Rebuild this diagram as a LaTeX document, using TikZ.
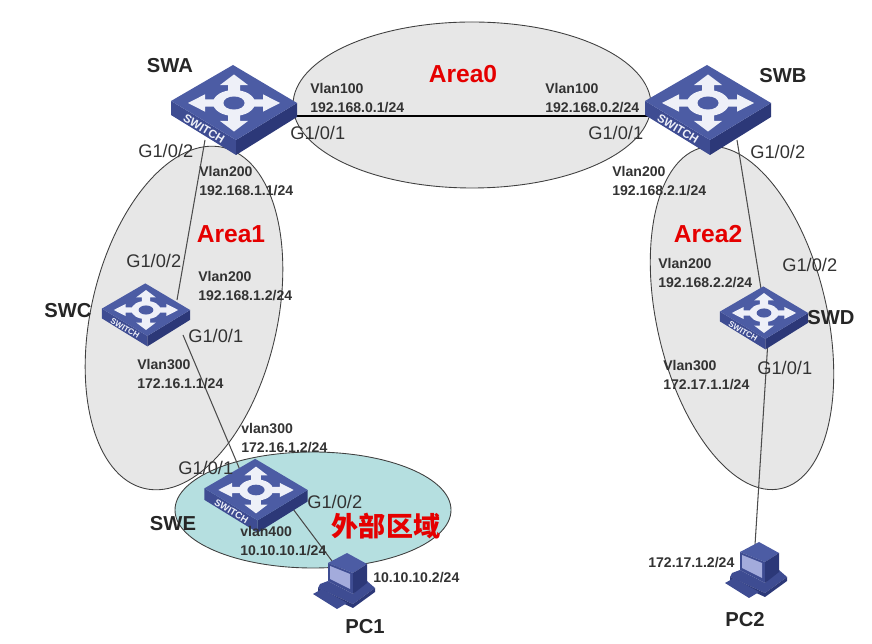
\documentclass[tikz,border=0pt]{standalone}
\usepackage{fontspec}
\setmainfont{Liberation Sans}
\newfontfamily\cjkfont{Noto Sans CJK SC}
\usetikzlibrary{calc}
\definecolor{swtop}{HTML}{4C5CA4}
\definecolor{swleft}{HTML}{3E4C92}
\definecolor{swright}{HTML}{2C3878}
\definecolor{swscreen}{HTML}{A3ABDC}
\definecolor{swarrow}{HTML}{EEF0F8}
\definecolor{greyarea}{HTML}{E7E7E7}
\definecolor{tealarea}{HTML}{B5DFE0}
\definecolor{labelgrey}{HTML}{333333}
\tikzset{
	areashape/.style={draw=black!75, line width=0.5pt},
	cable/.style={draw=black!70, line width=0.6pt},
	backbone/.style={draw=black, line width=1.3pt},
	iplabel/.style={anchor=west, inner sep=0pt, align=left, text=labelgrey, font=\fontsize{8}{10.4}\selectfont\bfseries},
	portlabel/.style={anchor=west, inner sep=0pt, text=labelgrey, font=\fontsize{10.4}{12}\selectfont},
	namelabel/.style={inner sep=0pt, text=black!85, font=\fontsize{11.5}{13}\selectfont\bfseries},
	arealabel/.style={inner sep=0pt, text=red!90!black, font=\fontsize{14}{16}\selectfont\bfseries},
}
\def\crossarrow#1{\fill[swarrow, rotate=#1] (10,-6) -- (29,-6) -- (29,-14) -- (46,0) -- (29,14) -- (29,6) -- (10,6) -- cycle;}
\def\switchicon[#1](#2){
	\begin{scope}[shift={(#2)}, scale=#1]
		\fill[swleft] (-63,-2) -- (2,37) -- (2,52) -- (-63,12) -- cycle;
		\fill[swright] (63,0) -- (2,37) -- (2,52) -- (63,14) -- cycle;
		\fill[swtop] (-63,-2) -- (-1,-38) -- (63,0) -- (2,37) -- cycle;
		\begin{scope}[yscale=0.62]
			\crossarrow{0}
			\crossarrow{90}
			\crossarrow{180}
			\crossarrow{270}
			\fill[swarrow] (0,0) circle (21);
			\fill[swtop] (0,0) circle (10.5);
		\end{scope}
		\node[rotate=-31, transform shape, inner sep=0pt, text=swarrow, font=\fontsize{6.6}{7}\selectfont\bfseries] (#2-tag) at (-30,26) {SWITCH};
	\end{scope}
}
\def\pcicon(#1){
	\begin{scope}[shift={(#1)}]
		\fill[swleft] (-25,3) -- (-17,0) -- (8,13) -- (22,0) -- (30,7) -- (8,23) -- (-27,7) -- cycle;
		\fill[swright] (-27,7) -- (8,23) -- (30,7) -- (30,11) -- (8,27) -- (-27,11) -- cycle;
		\fill[swleft] (-32,13) -- (-23,8) -- (2,22) -- (-8,28) -- cycle;
		\fill[swtop] (2,-28) -- (22,-17) -- (8,-8) -- (-17,-18) -- cycle;
		\fill[swleft] (-17,-18) -- (8,-8) -- (8,13) -- (-17,0) -- cycle;
		\fill[swscreen] (-15,-15) -- (5,-7) -- (5,8) -- (-15,-2) -- cycle;
		\fill[swright] (8,-8) -- (22,-17) -- (22,2) -- (8,13) -- cycle;
	\end{scope}
}

\begin{document}
\begin{tikzpicture}[x=0.02cm, y=-0.02cm]
			%%%%% START %%%%%
			\useasboundingbox (0, 0) rectangle (872, 644);
			
			\draw[areashape, fill=greyarea] (472, 105) ellipse [x radius=179, y radius=83];
			\draw[areashape, fill=greyarea, rotate around={-13:(184, 318)}] (184, 318) ellipse [x radius=93, y radius=175];
			\draw[areashape, fill=greyarea, rotate around={13:(742, 318)}] (742, 318) ellipse [x radius=85, y radius=175];
			\draw[areashape, fill=tealarea] (313, 510) ellipse [x radius=138, y radius=58];
			
			\coordinate (swa) at (234, 103);
			\coordinate (swb) at (708, 103);
			\coordinate (swc) at (146, 310);
			\coordinate (swd) at (764, 313);
			\coordinate (swe) at (256, 490);
			\coordinate (pc1) at (345, 581);
			\coordinate (pc2) at (757, 570);
			
			\coordinate (swa-east) at (290, 116);
			\coordinate (swb-west) at (655, 116);
			\coordinate (swa-south) at (205, 140);
			\coordinate (swb-south) at (737, 140);
			\coordinate (swc-north) at (177, 300);
			\coordinate (swc-south) at (183, 335);
			\coordinate (swd-north) at (762, 295);
			\coordinate (swd-south) at (768, 340);
			\coordinate (swe-north) at (240, 470);
			\coordinate (swe-east) at (290, 505);
			\coordinate (pc1-north) at (335, 565);
			\coordinate (pc2-north) at (755, 545);
			
			\draw[backbone] (swa-east) -- (swb-west);
			\draw[cable] (swa-south) -- (swc-north);
			\draw[cable] (swc-south) -- (swe-north);
			\draw[cable] (swe-east) -- (pc1-north);
			\draw[cable] (swb-south) -- (swd-north);
			\draw[cable] (swd-south) -- (pc2-north);
			
			\switchicon[1](swa)
			\switchicon[1](swb)
			\switchicon[0.7](swc)
			\switchicon[0.7](swd)
			\switchicon[0.82](swe)
			\pcicon(pc1)
			\pcicon(pc2)
			
			\node[namelabel] (swa-name) at (170, 66) {SWA};
			\node[namelabel] (swb-name) at (783, 76) {SWB};
			\node[namelabel] (swc-name) at (68, 311) {SWC};
			\node[namelabel] (swd-name) at (831, 318) {SWD};
			\node[namelabel] (swe-name) at (173, 524) {SWE};
			\node[namelabel] (pc1-name) at (365, 627) {PC1};
			\node[namelabel] (pc2-name) at (745, 620) {PC2};
			
			\node[arealabel] (area0) at (463, 74) {Area0};
			\node[arealabel] (area1) at (231, 234) {Area1};
			\node[arealabel] (area2) at (708, 234) {Area2};
			\node[arealabel, font=\cjkfont\fontsize{15.4}{17}\selectfont\bfseries] (area3) at (386, 526) {外部区域};
			
			\node[iplabel] (swa-vlan100) at (310, 98) {Vlan100\\192.168.0.1/24};
			\node[iplabel] (swb-vlan100) at (545, 98) {Vlan100\\192.168.0.2/24};
			\node[iplabel] (swa-vlan200) at (199, 181) {Vlan200\\192.168.1.1/24};
			\node[iplabel] (swb-vlan200) at (612, 181) {Vlan200\\192.168.2.1/24};
			\node[iplabel] (swc-vlan200) at (198, 286) {Vlan200\\192.168.1.2/24};
			\node[iplabel] (swd-vlan200) at (658, 273) {Vlan200\\192.168.2.2/24};
			\node[iplabel] (swc-vlan300) at (137, 374) {Vlan300\\172.16.1.1/24};
			\node[iplabel] (swd-vlan300) at (663, 375) {Vlan300\\172.17.1.1/24};
			\node[iplabel] (swe-vlan300) at (241, 438) {vlan300\\172.16.1.2/24};
			\node[iplabel] (swe-vlan400) at (240, 541) {vlan400\\10.10.10.1/24};
			\node[iplabel] (pc1-ip) at (373, 578) {10.10.10.2/24};
			\node[iplabel] (pc2-ip) at (648, 563) {172.17.1.2/24};
			
			\node[portlabel] (swa-p1) at (290, 133) {G1/0/1};
			\node[portlabel] (swb-p1) at (588, 133) {G1/0/1};
			\node[portlabel] (swa-p2) at (138, 151) {G1/0/2};
			\node[portlabel] (swb-p2) at (750, 152) {G1/0/2};
			\node[portlabel] (swc-p2) at (126, 261) {G1/0/2};
			\node[portlabel] (swc-p1) at (188, 336) {G1/0/1};
			\node[portlabel] (swd-p2) at (782, 265) {G1/0/2};
			\node[portlabel] (swd-p1) at (757, 368) {G1/0/1};
			\node[portlabel] (swe-p1) at (178, 468) {G1/0/1};
			\node[portlabel] (swe-p2) at (307, 502) {G1/0/2};
			
			%%%%% END %%%%%
		\end{tikzpicture}
\end{document}
